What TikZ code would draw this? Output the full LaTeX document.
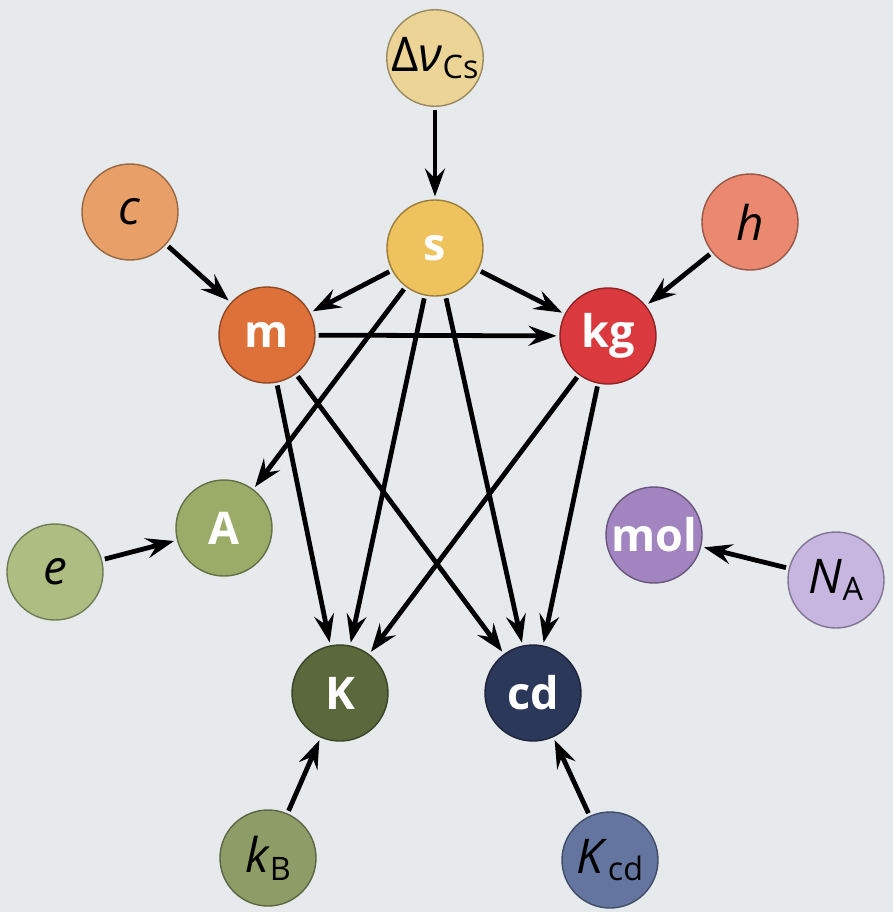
\documentclass[tikz,border=0pt]{standalone}
\usepackage{fontspec}
\setmainfont{Open Sans}
\usetikzlibrary{arrows.meta}

\definecolor{bgcol}{RGB}{231,234,237}
\definecolor{dnucol}{RGB}{236,212,150}
\definecolor{scol}{RGB}{238,194,92}
\definecolor{ccol}{RGB}{232,160,104}
\definecolor{hcol}{RGB}{234,136,112}
\definecolor{mcol}{RGB}{222,112,58}
\definecolor{kgcol}{RGB}{218,58,62}
\definecolor{Acol}{RGB}{154,172,104}
\definecolor{ecol}{RGB}{174,190,130}
\definecolor{molcol}{RGB}{162,132,192}
\definecolor{NAcol}{RGB}{198,182,224}
\definecolor{Kcol}{RGB}{90,104,60}
\definecolor{cdcol}{RGB}{44,56,90}
\definecolor{kBcol}{RGB}{142,156,104}
\definecolor{Kcdcol}{RGB}{100,118,160}

\newcommand{\lowsub}[1]{\raisebox{-0.3ex}{\fontsize{23}{23}\selectfont #1}}

\begin{document}
\begin{tikzpicture}[
    x=0.25mm,y=-0.25mm,
    unit/.style={circle,fill=#1,draw=#1!65!black,line width=1pt,minimum size=24mm,inner sep=0pt,
        text=white,font=\fontsize{32}{34}\selectfont\bfseries},
    const/.style={circle,fill=#1,draw=#1!65!black,line width=1pt,minimum size=24mm,inner sep=0pt,
        text=black,font=\fontsize{34}{36}\selectfont},
    link/.style={-{Stealth[length=7mm,width=5mm,inset=2.5mm,fill=black!70]},
        line width=3.4pt,shorten <=2pt,shorten >=2pt}
]
\useasboundingbox[fill=bgcol] (0,0) rectangle (893,912);

\node[const=dnucol] (dnu) at (435,58) {Δ\textit{ν}\lowsub{Cs}};
\node[unit=scol] (s) at (435,248) {s};
\node[const=ccol] (c) at (130,212) {\textit{c}};
\node[const=hcol] (h) at (750,222) {\textit{h}};
\node[unit=mcol] (m) at (267,335) {m};
\node[unit=kgcol] (kg) at (608,336) {kg};
\node[unit=Acol] (A) at (224,528) {A};
\node[const=ecol] (e) at (55,572) {\textit{e}};
\node[unit=molcol] (mol) at (654,535) {mol};
\node[const=NAcol] (NA) at (836,580) {\textit{N}\lowsub{A}};
\node[unit=Kcol] (K) at (340,693) {K};
\node[unit=cdcol] (cd) at (533,693) {cd};
\node[const=kBcol] (kB) at (268,858) {\textit{k}\lowsub{B}};
\node[const=Kcdcol] (Kcd) at (610,860) {\textit{K}\lowsub{cd}};

\draw[link] (dnu)--(s);
\draw[link] (c)--(m);
\draw[link] (h)--(kg);
\draw[link] (s)--(m);
\draw[link] (s)--(kg);
\draw[link] (m)--(kg);
\draw[link] (s)--(A);
\draw[link] (s)--(K);
\draw[link] (s)--(cd);
\draw[link] (m)--(K);
\draw[link] (m)--(cd);
\draw[link] (kg)--(K);
\draw[link] (kg)--(cd);
\draw[link] (e)--(A);
\draw[link] (NA)--(mol);
\draw[link] (kB)--(K);
\draw[link] (Kcd)--(cd);
\end{tikzpicture}
\end{document}
